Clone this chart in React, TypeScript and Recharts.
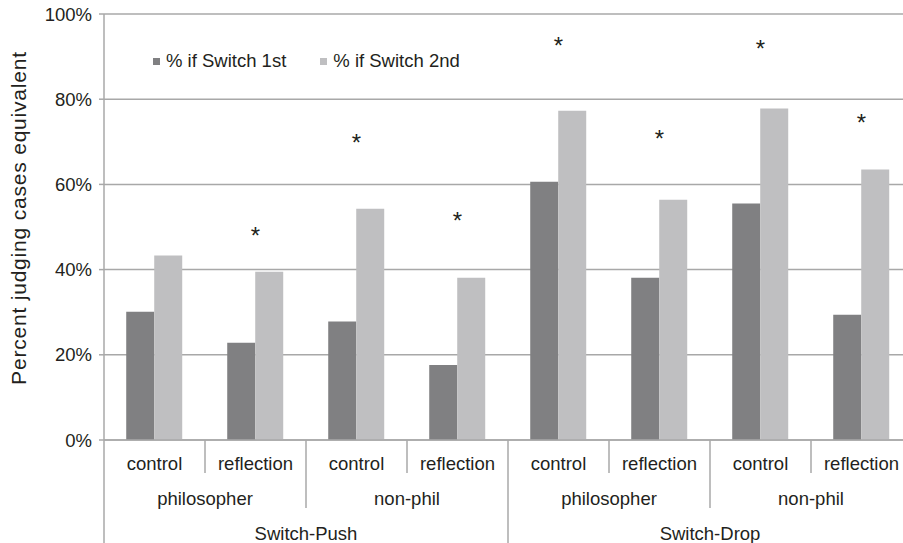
import { Bar, BarChart, CartesianGrid, Legend, Line, XAxis, YAxis } from "recharts";

const condition = ["control", "reflection", "control", "reflection", "control", "reflection", "control", "reflection"];
const respondent = ["philosopher", "philosopher", "non-phil", "non-phil", "philosopher", "philosopher", "non-phil", "non-phil"];
const scenario = ["Switch-Push", "Switch-Push", "Switch-Push", "Switch-Push", "Switch-Drop", "Switch-Drop", "Switch-Drop", "Switch-Drop"];
const switchFirst = [30.1, 22.8, 27.8, 17.6, 60.6, 38.1, 55.5, 29.4];
const switchSecond = [43.3, 39.5, 54.3, 38.1, 77.3, 56.4, 77.8, 63.5];
const significant = [null, 48.5, 70.5, 52.2, 93.2, 71.4, 92.6, 75.1];
const yTicks = [0, 20, 40, 60, 80, 100];

const seriesNames = ["% if Switch 1st", "% if Switch 2nd"];
const DARK = "#808082";
const LIGHT = "#bfbfc1";
const GRID = "#a8a8a8";
const TEXT = "#231f20";
const FONT = "'Liberation Sans', Arial, sans-serif";

const data = condition.map((c, i) => ({
  condition: c,
  respondent: respondent[i],
  scenario: scenario[i],
  first: switchFirst[i],
  second: switchSecond[i],
  star: significant[i],
}));

const CHART_W = 912;
const CHART_H = 543;
const Y_W = 104;
const X_H = 103;
const BAND = (CHART_W - Y_W) / data.length;
const BASE = CHART_H - X_H;

const CategoryTick = (props: any) => {
  const { x, index } = props;
  const left = x - BAND / 2;
  const row = data[index];
  let lineEnd = BASE + 33;
  if (index % 4 === 0) lineEnd = CHART_H;
  else if (index % 2 === 0) lineEnd = BASE + 68;
  return (
    <g fontFamily={FONT} fontSize={18.5} fill={TEXT}>
      <line x1={left} x2={left} y1={BASE} y2={lineEnd} stroke={GRID} strokeWidth={1.5} />
      <text x={x} y={BASE + 30} textAnchor="middle">{row.condition}</text>
      {index % 2 === 0 && (
        <text x={left + BAND} y={BASE + 65} textAnchor="middle">{row.respondent}</text>
      )}
      {index % 4 === 0 && (
        <text x={left + BAND * 2} y={BASE + 100} textAnchor="middle">{row.scenario}</text>
      )}
    </g>
  );
};

const StarDot = (props: any) => {
  const { cx, cy, value, index } = props;
  if (value == null || cy == null) return <g key={index} />;
  return (
    <text key={index} x={cx} y={cy + 11} textAnchor="middle" fontFamily={FONT} fontSize={24} fill={TEXT}>
      *
    </text>
  );
};

const LegendBox = () => (
  <div style={{ display: "flex", fontFamily: FONT, fontSize: 18.5, color: TEXT }}>
    {seriesNames.map((name, i) => (
      <div key={name} style={{ display: "flex", alignItems: "center", marginRight: 34 }}>
        <span style={{ width: 7, height: 7, background: i === 0 ? DARK : LIGHT, marginRight: 6, display: "inline-block" }} />
        {name}
      </div>
    ))}
  </div>
);

const YLabel = () => (
  <text
    transform="translate(18, 218) rotate(-90)"
    textAnchor="middle"
    dominantBaseline="central"
    fontFamily={FONT}
    fontSize={21}
    letterSpacing={0.8}
    fill={TEXT}
  >
    Percent judging cases equivalent
  </text>
);

export default function App() {
  return (
    <div style={{ position: "absolute", left: 0, top: 0, width: 903, height: 543, overflow: "hidden", background: "#fff" }}>
      <BarChart
        width={CHART_W}
        height={CHART_H}
        data={data}
        margin={{ top: 14, right: 0, bottom: 0, left: 0 }}
        barCategoryGap="22%"
        barGap={0}
      >
        <CartesianGrid vertical={false} stroke={GRID} strokeWidth={1.5} />
        <XAxis
          dataKey="condition"
          height={X_H}
          interval={0}
          tickLine={false}
          axisLine={{ stroke: GRID, strokeWidth: 1.5 }}
          tick={<CategoryTick />}
        />
        <YAxis
          width={Y_W}
          domain={[0, 100]}
          ticks={yTicks}
          tickFormatter={(v) => `${v}%`}
          tickSize={5}
          tickMargin={7}
          tickLine={{ stroke: GRID, strokeWidth: 1.5 }}
          axisLine={{ stroke: GRID, strokeWidth: 1.5 }}
          tick={{ fill: TEXT, fontSize: 18.5, fontFamily: FONT }}
          label={<YLabel />}
        />
        <Legend
          layout="horizontal"
          verticalAlign="middle"
          align="center"
          content={<LegendBox />}
          wrapperStyle={{ top: 50, left: 153, width: "auto" }}
        />
        <Bar dataKey="first" fill={DARK} isAnimationActive={false} />
        <Bar dataKey="second" fill={LIGHT} isAnimationActive={false} />
        <Line dataKey="star" stroke="none" dot={<StarDot />} activeDot={false} isAnimationActive={false} legendType="none" />
      </BarChart>
    </div>
  );
}
